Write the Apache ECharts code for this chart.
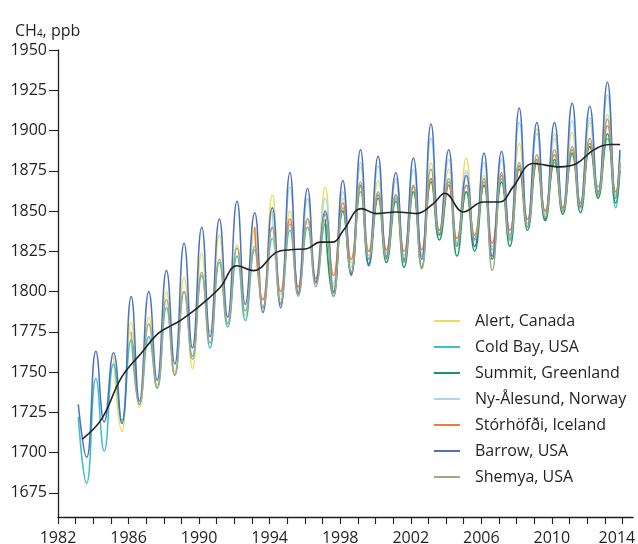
<!DOCTYPE html>
<html>
<head>
<meta charset="utf-8">
<script src="https://cdn.jsdelivr.net/npm/echarts@6/dist/echarts.min.js"></script>
<style>
  html, body {margin: 0; padding: 0; background: #fff;}
  #chart {width: 638px; height: 544px;}
</style>
</head>
<body>
<div id="chart"></div>
<script>
// ticks
const yTicks = [1675, 1700, 1725, 1750, 1775, 1800, 1825, 1850, 1875, 1900, 1925, 1950];
const xTickYears = [1982, 1983, 1984, 1985, 1986, 1987, 1988, 1989, 1990, 1991, 1992, 1993, 1994, 1995, 1996, 1997,
  1998, 1999, 2000, 2001, 2002, 2003, 2004, 2005, 2006, 2007, 2008, 2009, 2010, 2011, 2012, 2013, 2014];
const xLabelYears = [1982, 1986, 1990, 1994, 1998, 2002, 2006, 2010, 2014];

// seasonal maxima (winter) and minima (summer) per year
const alertStart = 1985;
const alertPeaks = [1760, 1781, 1784, 1800, 1809, 1824, 1835, 1829, 1839, 1860, 1850, 1857, 1865, 1858, 1877, 1869,
  1868, 1866, 1880, 1876, 1883, 1872, 1882, 1892, 1901, 1895, 1899, 1905, 1910];
const alertTroughs = [1713, 1728, 1742, 1750, 1752, 1775, 1781, 1785, 1790, 1795, 1800, 1808, 1803, 1818, 1825, 1825,
  1822, 1823, 1835, 1830, 1832, 1828, 1835, 1840, 1844, 1848, 1852, 1858, 1860];
const alertEnd = 1885;

const coldBayStart = 1983;
const coldBayPeaks = [1722, 1746, 1755, 1770, 1772, 1790, 1800, 1810, 1818, 1822, 1826, 1833, 1838, 1840, 1842, 1850,
  1862, 1860, 1858, 1862, 1870, 1868, 1862, 1866, 1870, 1878, 1882, 1880, 1885, 1890, 1895];
const coldBayTroughs = [1681, 1701, 1720, 1730, 1740, 1748, 1760, 1765, 1778, 1782, 1790, 1792, 1798, 1805, 1799, 1812,
  1820, 1822, 1820, 1822, 1838, 1830, 1833, 1826, 1835, 1845, 1850, 1852, 1855, 1865, 1852];
const coldBayEnd = 1880;

const summitStart = 1997;
const summitPeaks = [1845, 1850, 1866, 1858, 1856, 1862, 1868, 1866, 1862, 1866, 1868, 1876, 1880, 1882, 1886, 1890, 1898];
const summitTroughs = [1797, 1811, 1816, 1818, 1815, 1815, 1832, 1822, 1825, 1820, 1828, 1838, 1844, 1848, 1849, 1858, 1855];
const summitEnd = 1875;

const nyStart = 1994;
const nyPeaks = [1850, 1865, 1858, 1858, 1862, 1880, 1878, 1870, 1876, 1895, 1882, 1875, 1880, 1882, 1905, 1898, 1898,
  1906, 1908, 1922];
const nyTroughs = [1798, 1802, 1808, 1805, 1815, 1822, 1824, 1822, 1822, 1838, 1830, 1832, 1826, 1834, 1842, 1848, 1852,
  1855, 1862, 1860];
const nyEnd = 1886;

const storStart = 1993;
const storPeaks = [1840, 1840, 1845, 1845, 1848, 1855, 1865, 1860, 1860, 1865, 1870, 1866, 1866, 1868, 1872, 1878, 1882,
  1885, 1888, 1892, 1903];
const storTroughs = [1795, 1800, 1803, 1808, 1810, 1820, 1825, 1826, 1825, 1826, 1838, 1833, 1835, 1830, 1838, 1845, 1850,
  1852, 1855, 1862, 1862];
const storEnd = 1880;

const barrowStart = 1983;
const barrowPeaks = [1730, 1763, 1762, 1797, 1800, 1813, 1830, 1840, 1845, 1856, 1849, 1852, 1874, 1864, 1850, 1869,
  1888, 1884, 1874, 1883, 1904, 1888, 1872, 1886, 1887, 1914, 1905, 1905, 1917, 1915, 1930];
const barrowTroughs = [1697, 1719, 1718, 1732, 1745, 1755, 1765, 1772, 1784, 1792, 1787, 1790, 1799, 1806, 1800, 1810,
  1817, 1821, 1819, 1820, 1835, 1828, 1828, 1822, 1832, 1840, 1845, 1850, 1853, 1860, 1858];
const barrowEnd = 1888;

const shemyaStart = 1986;
const shemyaPeaks = [1775, 1780, 1795, 1800, 1812, 1820, 1827, 1828, 1840, 1842, 1845, 1848, 1852, 1868, 1862, 1860,
  1866, 1876, 1870, 1866, 1870, 1874, 1880, 1885, 1888, 1890, 1895, 1907];
const shemyaTroughs = [1730, 1740, 1748, 1758, 1768, 1780, 1788, 1790, 1793, 1797, 1803, 1797, 1812, 1820, 1820, 1818,
  1814, 1836, 1828, 1832, 1813, 1832, 1840, 1846, 1850, 1852, 1860, 1858];
const shemyaEnd = 1880;

// smoothed trend (black)
const trendYears = [1983.38, 1984.47, 1985.6, 1986.74, 1987.68, 1988.44, 1988.93, 1990.06, 1991.2, 1992.14, 1993.08,
  1994.4, 1995.16, 1996.1, 1996.86, 1997.6, 1998.18, 1999.2, 2000.06, 2001.2, 2002.34, 2003.28, 2003.94, 2004.98,
  2006.1, 2007.06, 2007.8, 2008.95, 2010.46, 2011.4, 2012.35, 2013.3, 2013.87];
const trendValues = [1708.4, 1720.8, 1746.7, 1762, 1774, 1779, 1782, 1791.3, 1802.7, 1816, 1813, 1824.5, 1826, 1826.6,
  1830.7, 1830.7, 1838, 1851.5, 1848.4, 1849.4, 1848.4, 1854.6, 1861, 1849.4, 1855.6, 1855.6, 1865, 1879.5, 1877.4,
  1879.5, 1887.8, 1891.3, 1891.3];

const endYear = 2013.86;

function seasonal(start, peaks, troughs, end) {
  const pts = [];
  for (let i = 0; i < peaks.length; i++) {
    pts.push([start + i + 0.15, peaks[i]]);
    pts.push([start + i + 0.62, troughs[i]]);
  }
  pts.push([endYear, end]);
  return pts;
}

const stations = [
  {name: 'Alert, Canada', color: '#e9dc62', data: seasonal(alertStart, alertPeaks, alertTroughs, alertEnd)},
  {name: 'Cold Bay, USA', color: '#3dbfc4', data: seasonal(coldBayStart, coldBayPeaks, coldBayTroughs, coldBayEnd)},
  {name: 'Summit, Greenland', color: '#14995f', data: seasonal(summitStart, summitPeaks, summitTroughs, summitEnd)},
  {name: 'Ny-Ålesund, Norway', color: '#a9d8ec', data: seasonal(nyStart, nyPeaks, nyTroughs, nyEnd)},
  {name: 'Stórhöfði, Iceland', color: '#f07a3a', data: seasonal(storStart, storPeaks, storTroughs, storEnd)},
  {name: 'Barrow, USA', color: '#4b72c2', data: seasonal(barrowStart, barrowPeaks, barrowTroughs, barrowEnd)},
  {name: 'Shemya, USA', color: '#a3a784', data: seasonal(shemyaStart, shemyaPeaks, shemyaTroughs, shemyaEnd)},
];

const ink = '#231f20';
const font = 'Open Sans';

const chart = echarts.init(document.getElementById('chart'));
chart.setOption({
  animation: false,
  title: {
    text: '{a|CH}{s|4}{a|, ppb}',
    left: 10, top: 14,
    textStyle: {
      rich: {
        a: {fontFamily: font, fontSize: 16, fontWeight: 'normal', color: ink, verticalAlign: 'bottom', lineHeight: 20},
        s: {fontFamily: font, fontSize: 10, fontWeight: 'normal', color: ink, verticalAlign: 'bottom', lineHeight: 14}
      }
    }
  },
  grid: {left: 58, right: 5, top: 50, bottom: 27, outerBoundsMode: 'none'},
  legend: {
    orient: 'vertical',
    left: 429, top: 307,
    icon: 'rect',
    itemWidth: 26, itemHeight: 2,
    itemGap: 8,
    textStyle: {fontFamily: font, fontSize: 16, color: ink, padding: [0, 0, 0, 10], lineHeight: 18},
    data: stations.map(s => s.name)
  },
  xAxis: {
    type: 'value',
    min: 1982, max: 2014.6,
    splitLine: {show: false},
    axisLine: {onZero: false, lineStyle: {color: ink, width: 1.3}},
    axisTick: {length: 7, lineStyle: {color: ink, width: 1.1}, customValues: xTickYears},
    axisLabel: {
      customValues: xLabelYears, margin: 13, fontFamily: font, fontSize: 16, color: ink,
      formatter: v => v === 2014 ? '{e|2014}' : String(v),
      rich: {e: {fontFamily: font, fontSize: 16, color: ink, padding: [0, 11, 0, 0]}}
    }
  },
  yAxis: {
    type: 'value',
    min: 1660, max: 1950,
    splitLine: {show: false},
    axisLine: {show: true, lineStyle: {color: ink, width: 1.3}},
    axisTick: {show: true, length: 9, lineStyle: {color: ink, width: 1.1}, customValues: yTicks},
    axisLabel: {customValues: yTicks, margin: 11, fontFamily: font, fontSize: 16, color: ink, formatter: v => String(v)}
  },
  series: stations.map(s => ({
    name: s.name,
    type: 'line',
    data: s.data,
    smooth: 0.5,
    showSymbol: false,
    color: s.color,
    lineStyle: {color: s.color, width: 1.5}
  })).concat([{
    name: 'trend',
    type: 'line',
    data: trendYears.map((y, i) => [y, trendValues[i]]),
    smooth: 0.4,
    showSymbol: false,
    lineStyle: {color: '#222222', width: 1.6},
    z: 5
  }])
});
</script>
</body>
</html>
